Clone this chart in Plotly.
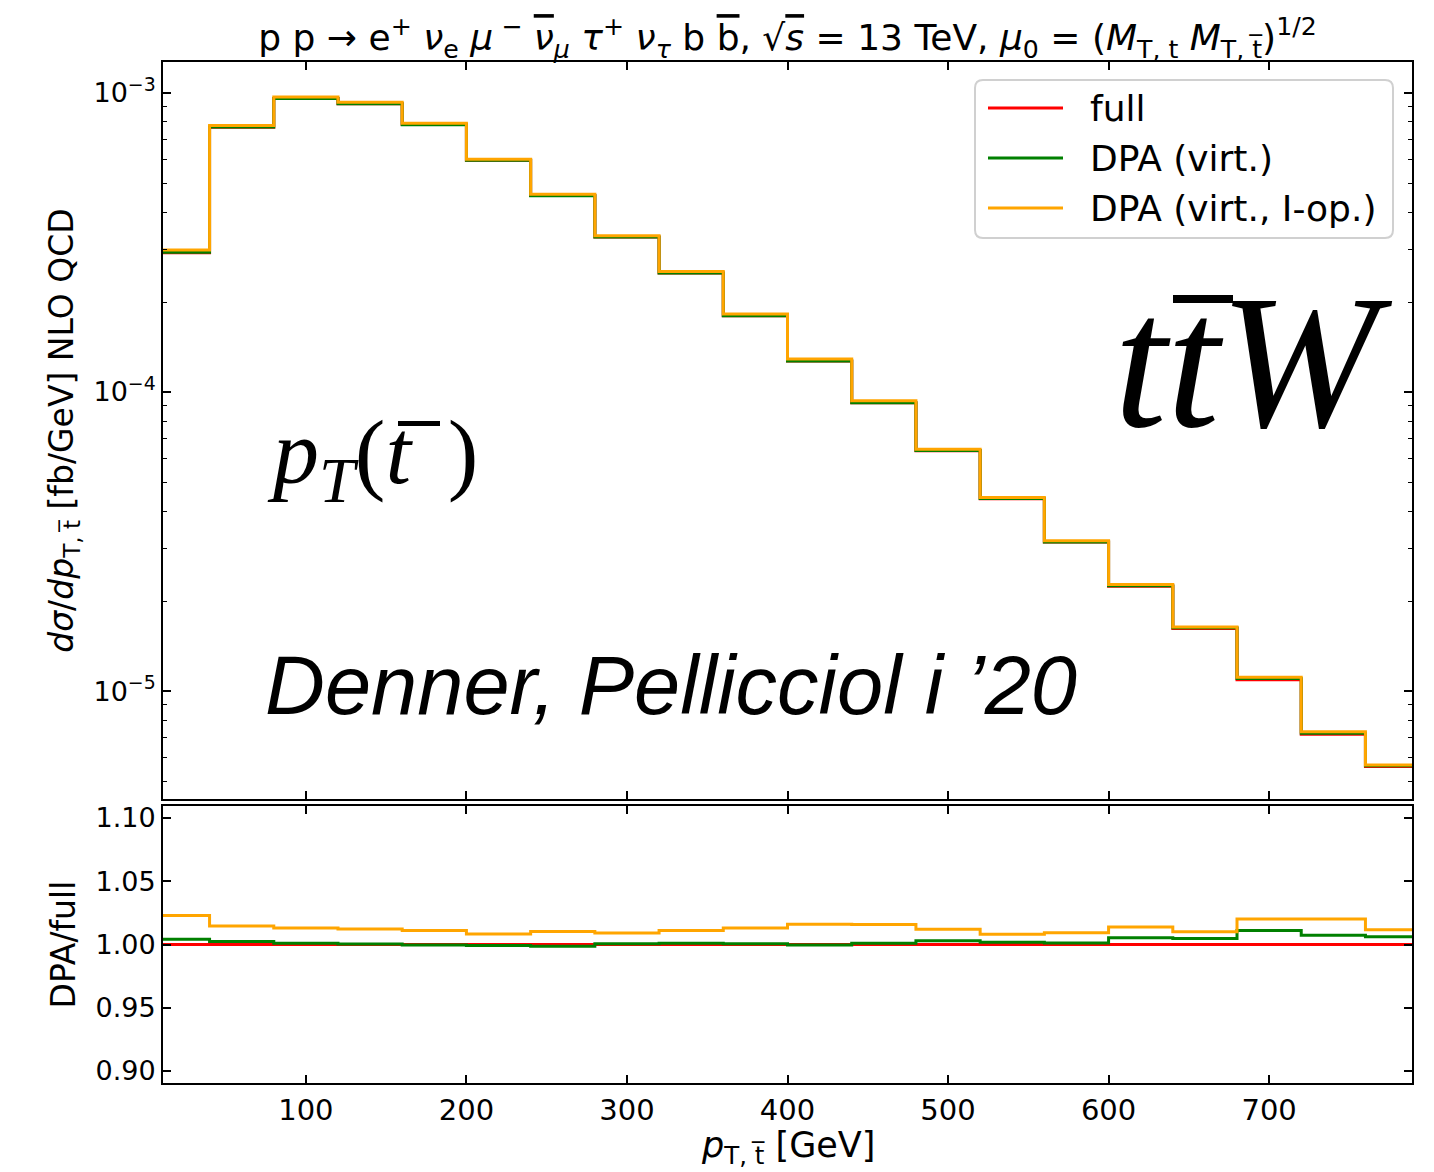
import plotly.graph_objects as go

# bin edges of the antitop transverse momentum [GeV]
bin_edges = [0, 40, 80, 120, 160, 200, 240, 280, 320, 360, 400,
             440, 480, 520, 560, 600, 640, 680, 720, 760, 800]

# full off-shell NLO QCD prediction [fb/GeV]
full = [2.92e-4, 7.68e-4, 9.58e-4, 9.20e-4, 7.84e-4, 5.96e-4, 4.54e-4, 3.30e-4,
        2.50e-4, 1.80e-4, 1.27e-4, 9.20e-5, 6.36e-5, 4.40e-5, 3.15e-5, 2.24e-5,
        1.62e-5, 1.09e-5, 7.17e-6, 5.59e-6]

# ratios to the full result
ratio_dpa_virt = [1.0042, 1.0023, 1.0010, 1.0003, 0.9997, 0.9992, 0.9987, 1.0005,
                  1.0010, 1.0005, 0.9997, 1.0010, 1.0029, 1.0017, 1.0012, 1.0053,
                  1.0048, 1.0110, 1.0074, 1.0061]
ratio_dpa_iop = [1.0229, 1.0146, 1.0130, 1.0122, 1.0110, 1.0083, 1.0102, 1.0091,
                 1.0110, 1.0130, 1.0161, 1.0159, 1.0120, 1.0082, 1.0092, 1.0139,
                 1.0100, 1.0202, 1.0202, 1.0116]

dpa_virt = [f * r for f, r in zip(full, ratio_dpa_virt)]
dpa_iop = [f * r for f, r in zip(full, ratio_dpa_iop)]

labels = ["full", "DPA (virt.)", "DPA (virt., I-op.)"]
colors = ["#ff0000", "#008000", "#ffa500"]
series = [
    (labels[0], colors[0], full, [1.0] * len(full)),
    (labels[1], colors[1], dpa_virt, ratio_dpa_virt),
    (labels[2], colors[2], dpa_iop, ratio_dpa_iop),
]


def step(vals):
    return list(vals) + [vals[-1]]


FONT = "DejaVu Sans"
W, H = 1434, 1172
ML, MR, MT, MB = 163, 22, 62, 89
PW, PH = W - ML - MR, H - MT - MB


def px(xp):
    return (xp - ML) / PW


def py(yp):
    return (H - MB - yp) / PH


OVL = "<span style='text-decoration:overline'>{}</span>"

fig = go.Figure()
for name, color, vals, rat in series:
    fig.add_trace(go.Scatter(x=bin_edges, y=step(vals), mode="lines",
                             line=dict(color=color, width=3, shape="hv"),
                             name=name, xaxis="x", yaxis="y"))
    fig.add_trace(go.Scatter(x=bin_edges, y=step(rat), mode="lines",
                             line=dict(color=color, width=3, shape="hv"),
                             name=name, xaxis="x2", yaxis="y2"))

axis_common = dict(showline=True, linecolor="black", linewidth=1.8, mirror="ticks",
                   ticks="inside", ticklen=8, tickwidth=1.5, tickcolor="black",
                   showgrid=False, zeroline=False)

minor_log = [m * 10.0 ** e for e in (-6, -5, -4, -3) for m in range(2, 10)]

fig.update_layout(
    width=W, height=H,
    margin=dict(l=ML, r=MR, t=MT, b=MB),
    plot_bgcolor="white", paper_bgcolor="white",
    font=dict(family=FONT, color="black", size=26),
    showlegend=False,
    title=dict(
        text="p p → e<sup>+</sup> <i>ν</i><sub>e</sub> <i>μ</i><sup> −</sup> "
             + OVL.format("<i>ν</i>") + "<sub><i>μ</i></sub> "
             "<i>τ</i><sup>+</sup> <i>ν</i><sub><i>τ</i></sub> b " + OVL.format("b") + ", "
             "√" + OVL.format("<i>s</i>") + " = 13 TeV, "
             "<i>μ</i><sub>0</sub> = (<i>M</i><sub>T, t</sub> <i>M</i><sub>T, t̅</sub>)<sup>1/2</sup>",
        x=0.5, xref="paper", xanchor="center", y=0.968, yanchor="middle",
        font=dict(size=36, family=FONT)),
    xaxis=dict(**axis_common, domain=[0, 1], range=[11, 789], anchor="y",
               tickvals=[100, 200, 300, 400, 500, 600, 700], showticklabels=False,
               matches="x2"),
    yaxis=dict(**axis_common, domain=[0.278, 1], type="log",
               range=[-5.3615, -2.8963], anchor="x",
               tickvals=[1e-3, 1e-4, 1e-5],
               ticktext=["10<sup>−3</sup>", "10<sup>−4</sup>", "10<sup>−5</sup>"],
               tickfont=dict(size=27),
               minor=dict(tickvals=minor_log, ticks="inside", ticklen=4, tickwidth=1.2,
                          tickcolor="black", showgrid=False),
               title=dict(text="<i>dσ</i>/<i>dp</i><sub>T, t̅</sub> [fb/GeV] NLO QCD",
                          font=dict(size=33), standoff=10)),
    xaxis2=dict(**axis_common, domain=[0, 1], range=[11, 789], anchor="y2",
                tickvals=[100, 200, 300, 400, 500, 600, 700],
                tickfont=dict(size=29)),
    yaxis2=dict(**axis_common, domain=[0, 0.2713], range=[0.8905, 1.1095], anchor="x2",
                tickvals=[0.90, 0.95, 1.00, 1.05, 1.10], tickformat=".2f",
                tickfont=dict(size=27),
                title=dict(text="DPA/full", font=dict(size=33), standoff=10)),
)

# x-axis title below the ratio panel
fig.add_annotation(text="<i>p</i><sub>T, t̅</sub> [GeV]", xref="paper", yref="paper",
                   x=0.5, y=py(1147), xanchor="center", yanchor="middle",
                   showarrow=False, font=dict(size=35, family=FONT))

# legend box with rounded corners
x0, x1, y0, y1 = px(975), px(1393), py(80), py(238)
rx, ry = 8 / PW, 8 / PH
box = (f"M {x0 + rx},{y0} L {x1 - rx},{y0} Q {x1},{y0} {x1},{y0 - ry} "
       f"L {x1},{y1 + ry} Q {x1},{y1} {x1 - rx},{y1} L {x0 + rx},{y1} "
       f"Q {x0},{y1} {x0},{y1 + ry} L {x0},{y0 - ry} Q {x0},{y0} {x0 + rx},{y0} Z")
fig.add_shape(type="path", path=box, xref="paper", yref="paper",
              line=dict(color="#d0d0d0", width=2), fillcolor="rgba(255,255,255,0.8)")
for i, (lab, col) in enumerate(zip(labels, colors)):
    yy = py(108 + 50 * i)
    fig.add_shape(type="line", xref="paper", yref="paper",
                  x0=px(988), x1=px(1063), y0=yy, y1=yy,
                  line=dict(color=col, width=3))
    fig.add_annotation(text=lab, xref="paper", yref="paper", x=px(1088), y=yy,
                       xanchor="left", yanchor="middle", showarrow=False,
                       font=dict(size=36, family=FONT))

# process label t tbar W, with the bar over the antitop drawn as a filled strip
fig.add_annotation(text="<i>ttW</i>", xref="paper", yref="paper",
                   x=px(1395), y=py(362), xanchor="right", yanchor="middle",
                   showarrow=False, font=dict(family="Liberation Serif", size=190))
fig.add_shape(type="rect", xref="paper", yref="paper",
              x0=px(1173), x1=px(1233), y0=py(295), y1=py(303),
              fillcolor="black", line=dict(width=0))

# observable label p_T(tbar)
fig.add_annotation(text="<i>p</i><sub><i>T</i></sub>(<i>t</i>\u2009\u2009)",
                   xref="paper", yref="paper",
                   x=px(265), y=py(458), xanchor="left", yanchor="middle",
                   showarrow=False, font=dict(family="Liberation Serif", size=92))
fig.add_shape(type="rect", xref="paper", yref="paper",
              x0=px(398), x1=px(440), y0=py(421), y1=py(426),
              fillcolor="black", line=dict(width=0))

fig.add_annotation(text="<i>Denner, Pellicciol i ’20</i>", xref="paper", yref="paper",
                   x=px(263), y=py(685), xanchor="left", yanchor="middle",
                   showarrow=False, font=dict(family="Liberation Sans", size=83))

fig.write_html("out.html")
